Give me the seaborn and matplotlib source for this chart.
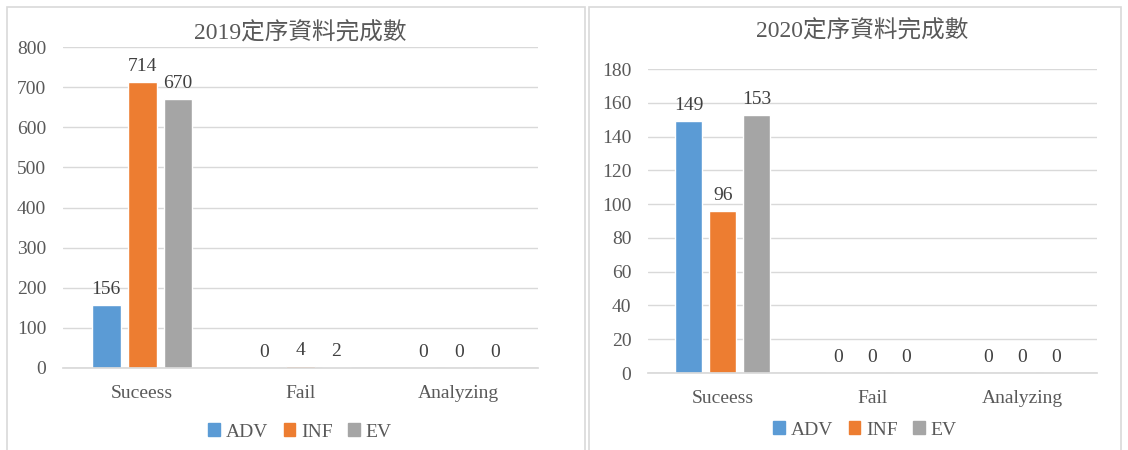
import matplotlib
matplotlib.use("Agg")
import matplotlib.pyplot as plt
import seaborn as sns
import pandas as pd
from matplotlib.patches import Rectangle

categories = ["Suceess", "Fail", "Analyzing"]
series = ["ADV", "INF", "EV"]
values_2019 = {"ADV": [156, 0, 0], "INF": [714, 4, 0], "EV": [670, 2, 0]}
values_2020 = {"ADV": [149, 0, 0], "INF": [96, 0, 0], "EV": [153, 0, 0]}
titles = ["2019定序資料完成數", "2020定序資料完成數"]
colors = ["#5B9BD5", "#ED7D31", "#A5A5A5"]

sns.set_theme(style="white")
FAM = ["Liberation Serif", "Noto Sans CJK TC", "DejaVu Sans"]
plt.rcParams["font.family"] = FAM
TXT = "#595959"
FS = 14

W, H = 1128, 450
fig = plt.figure(figsize=(W / 100, H / 100), dpi=100)

# panel borders
for (x0, y0, x1, y1) in [(7, 7, 585, 452), (589, 7, 1121, 452)]:
    fig.patches.append(Rectangle((x0 / W, 1 - y1 / H), (x1 - x0) / W, (y1 - y0) / H,
                                 transform=fig.transFigure, fill=False,
                                 edgecolor="#d9d9d9", linewidth=1.2))


def px_axes(x0, x1, ytop, ybot):
    return fig.add_axes([x0 / W, 1 - ybot / H, (x1 - x0) / W, (ybot - ytop) / H])


specs = [
    dict(data=values_2019, box=(63, 538, 47, 368), ymax=800, step=100,
         title_xy=(300, 33), legend_xy=(300, 432)),
    dict(data=values_2020, box=(648, 1097, 69, 373), ymax=180, step=20,
         title_xy=(862, 31), legend_xy=(865, 430)),
]

for spec, title in zip(specs, titles):
    rows = []
    for s in series:
        for c, v in zip(categories, spec["data"][s]):
            rows.append({"cat": c, "series": s, "value": v})
    df = pd.DataFrame(rows)
    x0, x1, yt, yb = spec["box"]
    ax = px_axes(x0, x1, yt, yb)
    sns.barplot(data=df, x="cat", y="value", hue="series", order=categories,
                hue_order=series, palette=colors, width=0.68, gap=0.2,
                saturation=1, ax=ax, legend=False)
    ax.set_ylim(0, spec["ymax"])
    ax.set_xlim(-0.5, 2.5)
    ax.set_yticks(range(0, spec["ymax"] + 1, spec["step"]))
    ax.yaxis.grid(True, color="#d9d9d9", linewidth=1)
    ax.set_axisbelow(True)
    for sp in ["top", "right", "left"]:
        ax.spines[sp].set_visible(False)
    ax.spines["bottom"].set_color("#d9d9d9")
    ax.tick_params(axis="both", length=0, labelsize=FS, colors=TXT, pad=12)
    ax.tick_params(axis="x", pad=12)
    ax.set_xlabel("")
    ax.set_ylabel("")
    for cont in ax.containers:
        ax.bar_label(cont, fmt="%d", padding=5, fontsize=FS, color="#404040")
    tx, ty = spec["title_xy"]
    fig.text(tx / W, 1 - ty / H, title, ha="center", va="center",
             fontsize=17, color=TXT, family=FAM)
    handles = [Rectangle((0, 0), 1, 1, color=c) for c in colors]
    lx, ly = spec["legend_xy"]
    fig.legend(handles, series, loc="center", bbox_to_anchor=(lx / W, 1 - ly / H),
               ncol=3, frameon=False, fontsize=FS, handlelength=0.6,
               handleheight=0.6, handletextpad=0.3, columnspacing=0.8,
               labelcolor=TXT)

fig.savefig("out.png", dpi=100)
